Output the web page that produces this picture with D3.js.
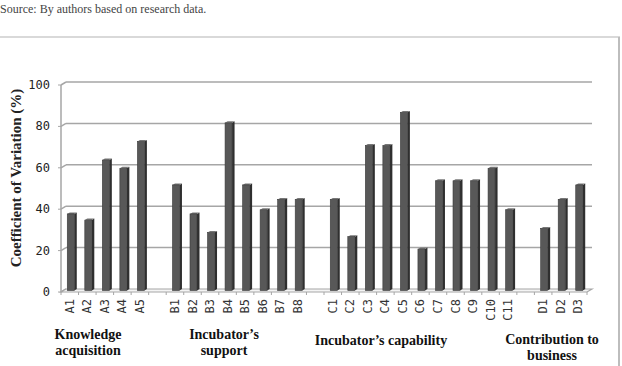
<!DOCTYPE html>
<html>
<head>
<meta charset="utf-8">
<script src="https://cdn.jsdelivr.net/npm/d3@7.9.0/dist/d3.min.js"></script>
<style>
  html, body { margin: 0; padding: 0; background: #fff; }
  svg { display: block; }
</style>
</head>
<body>
<svg id="chart" width="622" height="366"></svg>
<script>
// data
const categories = ['A1', 'A2', 'A3', 'A4', 'A5',
  'B1', 'B2', 'B3', 'B4', 'B5', 'B6', 'B7', 'B8',
  'C1', 'C2', 'C3', 'C4', 'C5', 'C6', 'C7', 'C8', 'C9', 'C10', 'C11',
  'D1', 'D2', 'D3'];
const values = [37, 34, 63, 59, 72,
  51, 37, 28, 81, 51, 39, 44, 44,
  44, 26, 70, 70, 86, 20, 53, 53, 53, 59, 39,
  30, 44, 51];
const groupSizes = [5, 8, 11, 3];
const groupNames = [
  ['Knowledge', 'acquisition'],
  ['Incubator\u2019s', 'support'],
  ['Incubator\u2019s capability'],
  ['Contribution to', 'business']
];
const yTicks = [0, 20, 40, 60, 80, 100];
const yTitle = 'Coefficient of Variation (%)';
const source = 'Source: By authors based on research data.';

// slots: categories with an empty slot between groups
let slots = [];
let k = 0;
groupSizes.forEach((n, g) => {
  for (let i = 0; i < n; i++) slots.push(categories[k++]);
  if (g < groupSizes.length - 1) slots.push('gap' + g);
});

const svg = d3.select('#chart');
const plotL = 61, plotR = 587, plotB = 292, plotT = 85;
const dx = 5, dy = -3; // depth of the back wall

const x = d3.scaleBand().domain(slots).range([plotL, plotR]);
const y = d3.scaleLinear().domain([0, 100]).range([plotB, plotT]);

// source line and frame
svg.append('text')
  .attr('x', 0).attr('y', 13)
  .attr('font-family', 'Liberation Serif, Times New Roman, serif')
  .attr('font-size', 12).attr('fill', '#444')
  .text(source);

svg.append('line').attr('x1', 0).attr('x2', 620).attr('y1', 37).attr('y2', 37)
  .attr('stroke', '#d9d9d9').attr('stroke-width', 2);
svg.append('line').attr('x1', 619).attr('x2', 619).attr('y1', 37).attr('y2', 366)
  .attr('stroke', '#bdbdbd').attr('stroke-width', 2);

// back wall gridlines with the small diagonal at the axis
const grid = svg.append('g').attr('stroke', '#a6a6a6').attr('stroke-width', 1.5).attr('fill', 'none');
yTicks.forEach(t => {
  if (t > 0) {
    grid.append('line').attr('x1', plotL + dx).attr('x2', plotR + dx)
      .attr('y1', y(t) + dy).attr('y2', y(t) + dy);
  }
  grid.append('line').attr('x1', plotL).attr('x2', plotL + dx)
    .attr('y1', y(t)).attr('y2', y(t) + dy);
});

// floor
svg.append('path')
  .attr('d', `M${plotL},${plotB} L${plotR},${plotB} L${plotR + dx},${plotB + dy} L${plotL + dx},${plotB + dy} Z`)
  .attr('fill', '#f4f4f4').attr('stroke', '#a6a6a6').attr('stroke-width', 1.2);

// y axis
const yAxis = svg.append('g');
yAxis.append('line').attr('x1', plotL).attr('x2', plotL).attr('y1', y(100)).attr('y2', plotB)
  .attr('stroke', '#a6a6a6').attr('stroke-width', 1.5);
yAxis.selectAll('line.tk').data(yTicks).join('line')
  .attr('class', 'tk')
  .attr('x1', plotL - 3).attr('x2', plotL).attr('y1', d => y(d)).attr('y2', d => y(d))
  .attr('stroke', '#a6a6a6');
yAxis.selectAll('text').data(yTicks).join('text')
  .attr('x', 50).attr('y', d => y(d) + 4)
  .attr('text-anchor', 'end')
  .attr('font-family', 'DejaVu Sans Mono, monospace')
  .attr('font-size', 12).attr('fill', '#222')
  .text(d => d);

// x ticks on the floor's front edge
const bounds = slots.map(s => x(s)).concat([plotR]);
svg.append('g').selectAll('line').data(bounds).join('line')
  .attr('x1', d => d).attr('x2', d => d).attr('y1', plotB).attr('y2', plotB + 3)
  .attr('stroke', '#a6a6a6');

// 3d bars
const bw = 7, bd = 2.5, bh = -1.5;
const bars = svg.append('g').selectAll('g').data(categories).join('g');
bars.each(function (c, i) {
  const g = d3.select(this);
  const x0 = x(c) + x.bandwidth() / 2 - bw / 2 + 1;
  const yt = y(values[i]) + dy / 2;
  const yb = plotB + dy / 2;
  g.append('path')
    .attr('d', `M${x0 + bw},${yt} L${x0 + bw + bd},${yt + bh} L${x0 + bw + bd},${yb + bh} L${x0 + bw},${yb} Z`)
    .attr('fill', '#2f2f2f');
  g.append('path')
    .attr('d', `M${x0},${yt} L${x0 + bd},${yt + bh} L${x0 + bw + bd},${yt + bh} L${x0 + bw},${yt} Z`)
    .attr('fill', '#777');
  g.append('rect')
    .attr('x', x0).attr('y', yt).attr('width', bw).attr('height', yb - yt)
    .attr('fill', '#585858').attr('stroke', '#3a3a3a').attr('stroke-width', 0.6);
});

// x labels, rotated
svg.append('g').selectAll('text').data(categories).join('text')
  .attr('transform', d => `translate(${x(d) + x.bandwidth() / 2 + 4},299) rotate(-90)`)
  .attr('text-anchor', 'end')
  .attr('font-family', 'DejaVu Sans Mono, monospace')
  .attr('font-size', 12).attr('fill', '#333')
  .text(d => d);

// axis title
svg.append('text')
  .attr('transform', `translate(21,178) rotate(-90)`)
  .attr('text-anchor', 'middle')
  .attr('font-family', 'Liberation Serif, Times New Roman, serif')
  .attr('font-weight', 'bold').attr('font-size', 15).attr('fill', '#222')
  .text(yTitle);

// group labels
const groupX = [88, 224, 381, 552];
const groupY = [339, 339, 345, 344];
groupNames.forEach((lines, g) => {
  const t = svg.append('text')
    .attr('x', groupX[g]).attr('y', groupY[g])
    .attr('text-anchor', 'middle')
    .attr('font-family', 'Liberation Serif, Times New Roman, serif')
    .attr('font-weight', 'bold').attr('font-size', 14).attr('fill', '#111');
  lines.forEach((s, j) => {
    t.append('tspan').attr('x', groupX[g]).attr('dy', j ? 16 : 0).text(s);
  });
});
</script>
</body>
</html>
